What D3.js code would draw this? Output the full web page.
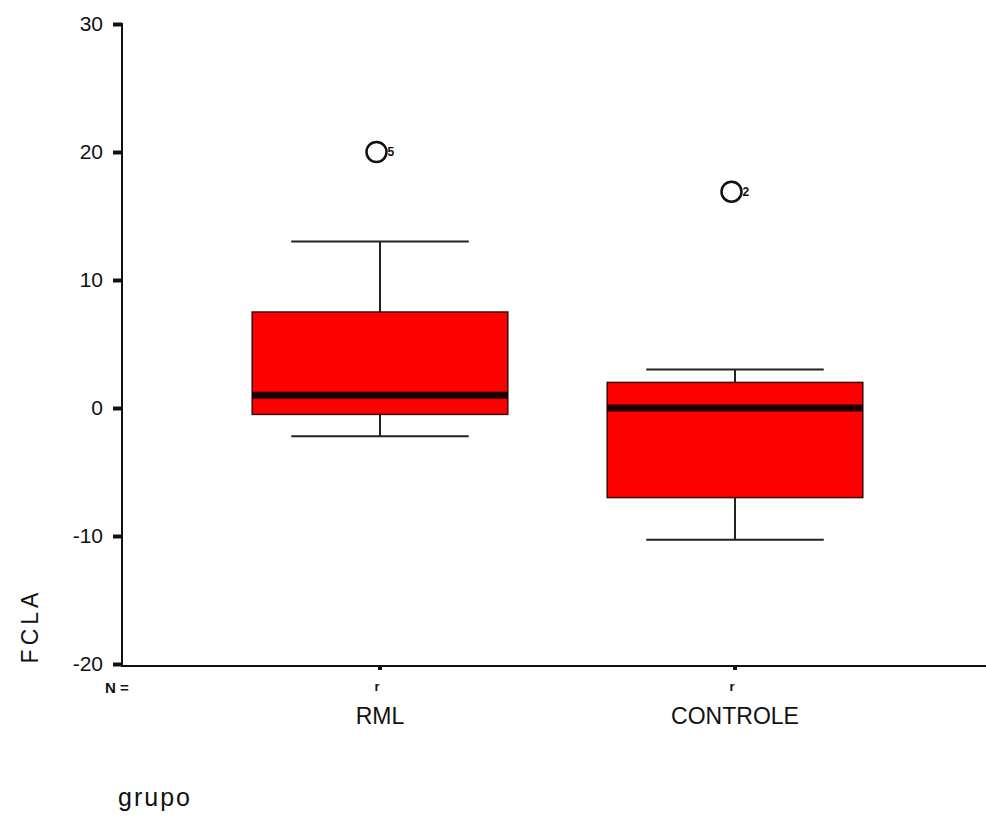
<!DOCTYPE html>
<html>
<head>
<meta charset="utf-8">
<script src="https://cdn.jsdelivr.net/npm/d3@7"></script>
<style>
  html, body { margin: 0; padding: 0; background: #fff; }
  svg text { font-family: "Liberation Sans", Arial, sans-serif; fill: #111; }
</style>
</head>
<body>
<div id="chart"></div>
<script>
(function () {
  "use strict";

  // grupos e estatísticas do boxplot
  var GROUPS = ["RML", "CONTROLE"];
  var Q1 = [-0.5, -7];
  var MEDIAN = [1, 0];
  var Q3 = [7.5, 2];
  var WHISK_LO = [-2.2, -10.3];
  var WHISK_HI = [13, 3];
  var OUTLIERS = [
    { group: "RML", value: 20, label: "5" },
    { group: "CONTROLE", value: 16.9, label: "2" }
  ];
  var N_MARKS = ["r", "r"];
  var Y_TICKS = [-20, -10, 0, 10, 20, 30];

  var W = 986, H = 818;
  var FONT = "\"Liberation Sans\", Arial, sans-serif";

  var svg = d3.select("#chart").append("svg")
    .attr("width", W)
    .attr("height", H);

  var y = d3.scaleLinear().domain([-20, 30]).range([664, 24]);
  var x = d3.scaleBand().domain(GROUPS).range([202.5, 912.5]).padding(0);
  var bw = x.bandwidth();
  var boxW = bw * 0.72;
  var capW = bw * 0.5;
  function cx(g) { return x(g) + bw / 2; }

  // eixo Y
  var yAxis = svg.append("g")
    .attr("transform", "translate(122,0)")
    .call(d3.axisLeft(y).tickValues(Y_TICKS).tickFormat(function (d) { return String(d); })
      .tickSize(9).tickPadding(10).tickSizeOuter(0));
  yAxis.select(".domain").attr("stroke", "#111").attr("stroke-width", 2).attr("d", "M0," + (y(30) - 1) + "V667");
  yAxis.selectAll(".tick line").attr("stroke", "#111").attr("stroke-width", 4);
  yAxis.selectAll(".tick text").attr("font-size", 21).style("font-family", FONT);

  // eixo X
  var xAxis = svg.append("g")
    .attr("transform", "translate(0,666)")
    .call(d3.axisBottom(x).tickSize(4).tickPadding(38).tickSizeOuter(0));
  xAxis.select(".domain").attr("stroke", "#111").attr("stroke-width", 2).attr("d", "M121,0H986");
  xAxis.selectAll(".tick line").attr("stroke", "#111").attr("stroke-width", 4);
  xAxis.selectAll(".tick text").attr("font-size", 23).style("font-family", FONT);

  var boxes = svg.selectAll("g.box")
    .data(GROUPS)
    .enter()
    .append("g")
    .attr("class", "box");

  // bigodes
  boxes.append("line")
    .attr("x1", cx).attr("x2", cx)
    .attr("y1", function (d, i) { return y(WHISK_HI[i]); })
    .attr("y2", function (d, i) { return y(Q3[i]); })
    .attr("stroke", "#222").attr("stroke-width", 2);
  boxes.append("line")
    .attr("x1", cx).attr("x2", cx)
    .attr("y1", function (d, i) { return y(Q1[i]); })
    .attr("y2", function (d, i) { return y(WHISK_LO[i]); })
    .attr("stroke", "#222").attr("stroke-width", 2);
  boxes.append("line")
    .attr("x1", function (d) { return cx(d) - capW / 2; })
    .attr("x2", function (d) { return cx(d) + capW / 2; })
    .attr("y1", function (d, i) { return y(WHISK_HI[i]); })
    .attr("y2", function (d, i) { return y(WHISK_HI[i]); })
    .attr("stroke", "#222").attr("stroke-width", 2);
  boxes.append("line")
    .attr("x1", function (d) { return cx(d) - capW / 2; })
    .attr("x2", function (d) { return cx(d) + capW / 2; })
    .attr("y1", function (d, i) { return y(WHISK_LO[i]); })
    .attr("y2", function (d, i) { return y(WHISK_LO[i]); })
    .attr("stroke", "#222").attr("stroke-width", 2);

  // caixa
  boxes.append("rect")
    .attr("x", function (d) { return cx(d) - boxW / 2; })
    .attr("width", boxW)
    .attr("y", function (d, i) { return y(Q3[i]); })
    .attr("height", function (d, i) { return y(Q1[i]) - y(Q3[i]); })
    .attr("fill", "#fd0000")
    .attr("stroke", "#3a0a0a")
    .attr("stroke-width", 1.5);

  // mediana
  boxes.append("line")
    .attr("x1", function (d) { return cx(d) - boxW / 2; })
    .attr("x2", function (d) { return cx(d) + boxW / 2; })
    .attr("y1", function (d, i) { return y(MEDIAN[i]); })
    .attr("y2", function (d, i) { return y(MEDIAN[i]); })
    .attr("stroke", "#1a0000").attr("stroke-width", 7);

  // outliers
  var outs = svg.selectAll("g.outlier")
    .data(OUTLIERS)
    .enter()
    .append("g")
    .attr("transform", function (d) { return "translate(" + (cx(d.group) - 3.5) + "," + y(d.value) + ")"; });
  outs.append("circle")
    .attr("r", 10)
    .attr("fill", "#fff")
    .attr("stroke", "#111")
    .attr("stroke-width", 2.5);
  outs.append("text")
    .attr("x", 11).attr("y", 4)
    .attr("font-size", 12).attr("font-weight", "bold")
    .text(function (d) { return d.label; });

  // N =
  svg.append("text")
    .attr("x", 105).attr("y", 693)
    .attr("font-size", 15).attr("font-weight", "bold")
    .text("N =");
  svg.selectAll("text.n")
    .data(GROUPS)
    .enter()
    .append("text")
    .attr("class", "n")
    .attr("x", function (d) { return cx(d) - 3; }).attr("y", 691)
    .attr("text-anchor", "middle")
    .attr("font-size", 13).attr("font-weight", "bold")
    .text(function (d, i) { return N_MARKS[i]; });

  // títulos
  svg.append("text")
    .attr("transform", "translate(38,626) rotate(-90)")
    .attr("text-anchor", "middle")
    .attr("font-size", 23)
    .attr("letter-spacing", 4)
    .text("FCLA");

  svg.append("text")
    .attr("x", 118).attr("y", 806)
    .attr("font-size", 25)
    .attr("letter-spacing", 2)
    .text("grupo");
})();
</script>
</body>
</html>
